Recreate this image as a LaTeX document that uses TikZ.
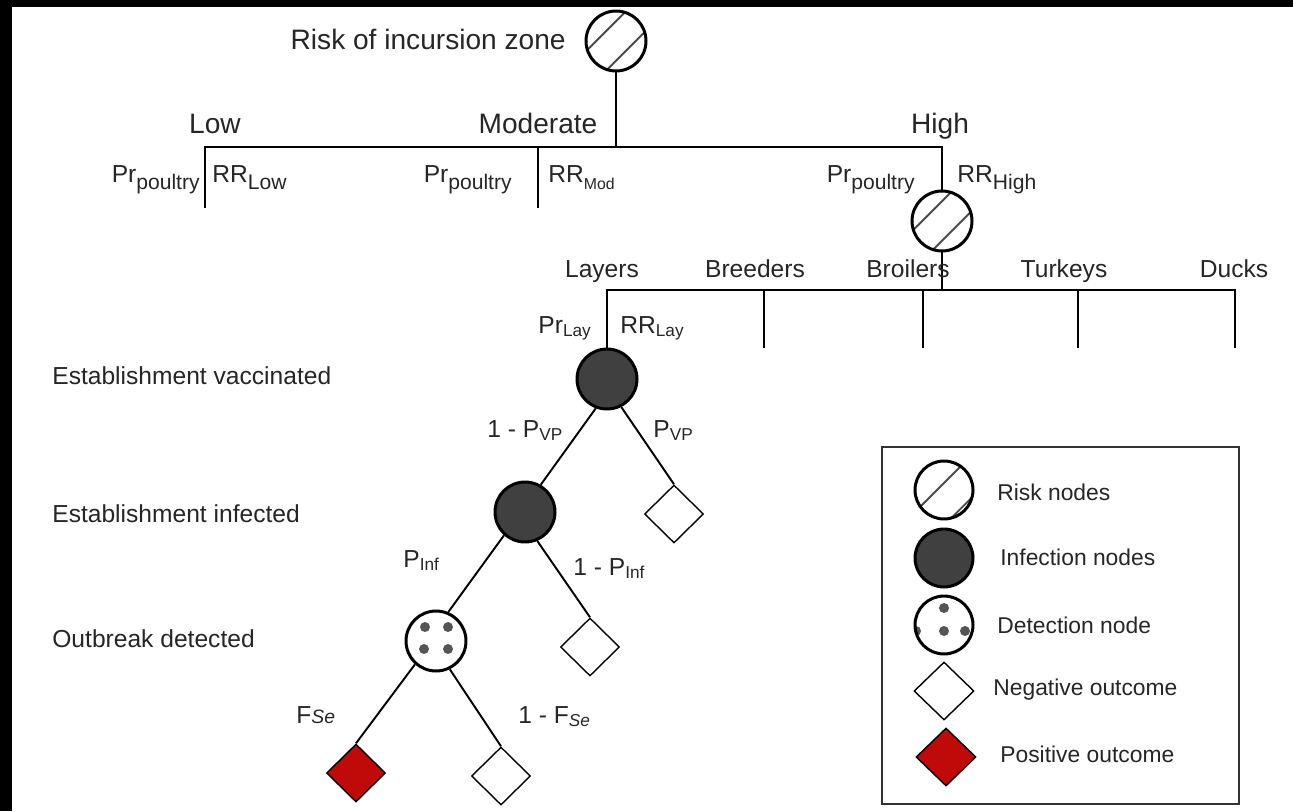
\documentclass[tikz,border=0pt]{standalone}
\usepackage{fontspec}
\setmainfont{Liberation Sans}
\usetikzlibrary{shapes.geometric,positioning}

\definecolor{infgray}{HTML}{404040}
\definecolor{hatchgray}{HTML}{4A4A4A}
\definecolor{dotgray}{HTML}{555555}
\definecolor{posred}{HTML}{C00A0A}
\definecolor{txtgray}{HTML}{262626}

% larger subscript used on the first branching
\newcommand{\lsub}[2][12]{\raisebox{-4pt}{\fontsize{#1}{#1}\selectfont #2}}

\begin{document}
\begin{tikzpicture}[x=0.02cm, y=-0.02cm, font=\fontsize{14}{17}\selectfont,
    branch/.style={line width=1.1pt},
    lbl/.style={inner sep=0pt, text=txtgray},
    zonetxt/.style={lbl, font=\fontsize{16}{19}\selectfont},
    keytxt/.style={lbl, anchor=base west, font=\fontsize{13}{15}\selectfont},
    risk/.style={circle, draw, line width=1.7pt, fill=white, minimum size=1.2cm, inner sep=0pt,
      path picture={\foreach \o in {#1}
        \draw[hatchgray, line width=1.1pt] ([shift={(-45:\o*0.02cm)}]path picture bounding box.center)
          ++(-0.8cm,-0.8cm) -- ++(1.6cm,1.6cm);}},
    risk/.default={-14,14},
    infect/.style={circle, draw, line width=1.7pt, fill=infgray, minimum size=1.2cm, inner sep=0pt},
    detect/.style={circle, draw, line width=1.7pt, fill=white, minimum size=1.2cm, inner sep=0pt,
      path picture={\foreach \dx/\dy in {#1}
        \fill[dotgray] ([shift={(\dx*0.02cm,\dy*0.02cm)}]path picture bounding box.center) circle (0.1cm);}},
    detect/.default={-11/14,12/14,-12/-8,12/-8},
    outcome/.style={diamond, draw, line width=0.8pt, fill=white, minimum width=1.18cm, minimum height=1.16cm, inner sep=0pt},
    posout/.style={outcome, fill=posred}]

  % frame of the screenshot
  \fill[white] (0,0) rectangle (1293,811);
  \useasboundingbox (0,0) rectangle (1293,811);
  \fill[black] (0,0) rectangle (1293,7);
  \fill[black] (0,0) rectangle (12,811);

  % risk of incursion zone
  \node (root) [risk] at (616,41) {};
  \node (rootlbl) [zonetxt, anchor=base east] at (566,50) {Risk of incursion zone};
  \coordinate (j1) at (616,147);
  \coordinate (lowtop) at (205,147);
  \coordinate (lowend) at (205,208);
  \coordinate (modtop) at (538,147);
  \coordinate (modend) at (538,208);
  \coordinate (hightop) at (942,147);
  \node (high) [risk] at (942,221) {};
  \draw[branch] (root) -- (j1);
  \draw[branch] (lowend) -- (lowtop) -- (hightop) -- (high);
  \draw[branch] (modtop) -- (modend);

  \node (low) [zonetxt, anchor=base] at (215,133) {Low};
  \node (mod) [zonetxt, anchor=base] at (538,133) {Moderate};
  \node (hi) [zonetxt, anchor=base] at (940,133) {High};
  \node (prlow) [lbl, anchor=base east] at (200,182) {Pr\lsub{poultry}};
  \node (rrlow) [lbl, anchor=base west] at (212,182) {RR\lsub{Low}};
  \node (prmod) [lbl, anchor=base east] at (512,182) {Pr\lsub{poultry}};
  \node (rrmod) [lbl, anchor=base west] at (548,182) {RR\lsub[9]{Mod}};
  \node (prhigh) [lbl, anchor=base east] at (915,182) {Pr\lsub{poultry}};
  \node (rrhigh) [lbl, anchor=base west] at (957,182) {RR\lsub{High}};

  % type of establishment
  \coordinate (j2) at (942,290);
  \coordinate (laytop) at (607,290);
  \coordinate (brdtop) at (764,290);
  \coordinate (brdend) at (764,348);
  \coordinate (brotop) at (923,290);
  \coordinate (broend) at (923,348);
  \coordinate (turtop) at (1078,290);
  \coordinate (turend) at (1078,348);
  \coordinate (ducktop) at (1235,290);
  \coordinate (duckend) at (1235,348);
  \node (vacc) [infect] at (607,379) {};
  \draw[branch] (high) -- (j2);
  \draw[branch] (vacc) -- (laytop) -- (ducktop) -- (duckend);
  \draw[branch] (brdtop) -- (brdend) (brotop) -- (broend) (turtop) -- (turend);

  \node (layers) [lbl, anchor=base] at (602,277) {Layers};
  \node (breeders) [lbl, anchor=base] at (755,277) {Breeders};
  \node (broilers) [lbl, anchor=base] at (908,277) {Broilers};
  \node (turkeys) [lbl, anchor=base] at (1064,277) {Turkeys};
  \node (ducks) [lbl, anchor=base] at (1234,277) {Ducks};
  \node (prlay) [lbl, anchor=base east] at (592,333) {Pr\textsubscript{Lay}};
  \node (rrlay) [lbl, anchor=base west] at (620,333) {RR\textsubscript{Lay}};

  % vaccination, infection, detection
  \node (inf) [infect] at (525,512) {};
  \node (det) [detect] at (436,641) {};
  \node (neg1) [outcome] at (674,514) {};
  \node (neg2) [outcome] at (590,647) {};
  \node (pos) [posout] at (356,773) {};
  \node (neg3) [outcome] at (501,776) {};
  \draw[branch] (vacc.249) -- (inf.60);
  \draw[branch] (vacc.297) -- (neg1.north);
  \draw[branch] (inf.228) -- (det.67);
  \draw[branch] (inf.293) -- (neg2.north);
  \draw[branch] (det.228) -- (pos.north);
  \draw[branch] (det.296) -- (neg3.north);

  \node (lvp) [lbl, anchor=base west] at (487,437) {1 - P\textsubscript{VP}};
  \node (vp) [lbl, anchor=base west] at (653,437) {P\textsubscript{VP}};
  \node (pinf) [lbl, anchor=base west] at (403,567) {P\textsubscript{Inf}};
  \node (lpinf) [lbl, anchor=base west] at (573,575) {1 - P\textsubscript{Inf}};
  \node (fse) [lbl, anchor=base west] at (296,723) {F{\fontsize{11}{13}\selectfont\itshape Se}};
  \node (lfse) [lbl, anchor=base west] at (518,723) {1 - F\textsubscript{\itshape Se}};

  \node (rowvacc) [lbl, anchor=base west] at (52,384) {Establishment vaccinated};
  \node (rowinf) [lbl, anchor=base west] at (52,522) {Establishment infected};
  \node (rowdet) [lbl, anchor=base west] at (52,647) {Outbreak detected};

  % legend
  \node (legend) [draw=black!80, line width=1.1pt, minimum width=7.14cm, minimum height=7.14cm, inner sep=0pt] at (1060.5,625.5) {};
  \node (keyrisk) [risk={-5,25}, minimum size=1.16cm] at (944,490) {};
  \node (keyinf) [infect, minimum size=1.16cm] at (944,558) {};
  \node (keydet) [detect={0/17,-28/-6,0/-6,21/-6}, minimum size=1.16cm] at (944,625) {};
  \node (keyneg) [outcome, minimum width=1.2cm] at (944,691) {};
  \node (keypos) [posout, minimum width=1.2cm] at (946,757) {};
  \node (keyrisklbl) [keytxt] at (997,500) {Risk nodes};
  \node (keyinflbl) [keytxt] at (1000,565) {Infection nodes};
  \node (keydetlbl) [keytxt] at (997,633) {Detection node};
  \node (keyneglbl) [keytxt] at (993,695) {Negative outcome};
  \node (keyposlbl) [keytxt] at (1000,762) {Positive outcome};
\end{tikzpicture}
\end{document}
